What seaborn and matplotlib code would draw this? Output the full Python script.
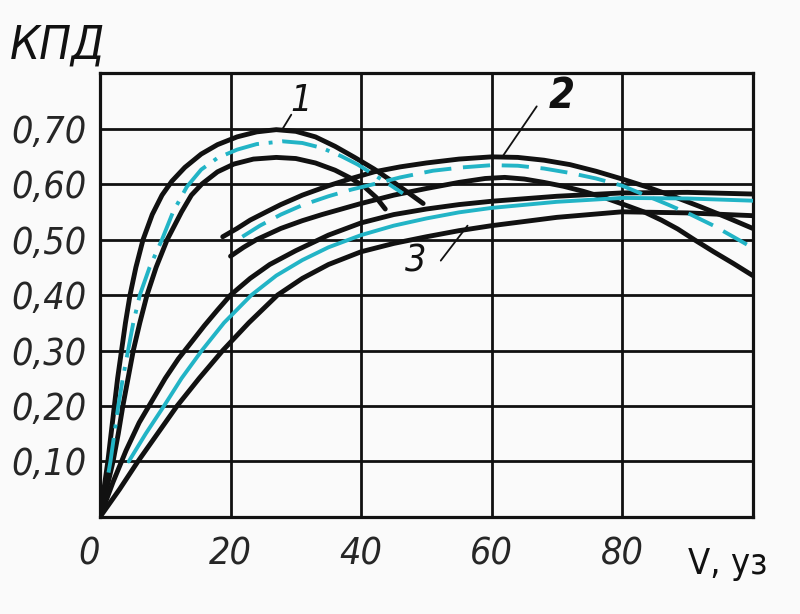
import matplotlib
matplotlib.use("Agg")
import matplotlib.pyplot as plt
from matplotlib.font_manager import FontProperties
import seaborn as sns

# скорость, уз / КПД — кривые снимаются с графика по точкам
# группа 1
v1_top = [0, 0.6, 1.2, 1.7, 2.2, 2.7, 3.3, 3.9, 4.6, 5.5, 6.6, 8, 9.5, 11, 13, 15.5, 18, 21, 24, 27,
          30, 33, 36, 39, 42, 45, 47.5, 49.5]
k1_top = [0, 0.05, 0.10, 0.15, 0.20, 0.25, 0.30, 0.35, 0.40, 0.45, 0.50, 0.545, 0.58, 0.605, 0.63,
          0.654, 0.671, 0.685, 0.694, 0.698, 0.695, 0.685, 0.668, 0.648, 0.627, 0.603, 0.582, 0.565]
v1_mid = [1.3, 1.6, 2.2, 2.8, 3.5, 4.3, 5.1, 6.1, 7.6, 9.5, 11.2, 13.3, 15.5, 18, 21, 24, 28, 31, 34,
          37, 39.5, 42.2, 44.5, 46.4]
k1_mid = [0.08, 0.10, 0.15, 0.20, 0.25, 0.30, 0.35, 0.40, 0.45, 0.50, 0.55, 0.595, 0.626, 0.647,
          0.662, 0.672, 0.677, 0.674, 0.665, 0.65, 0.635, 0.615, 0.598, 0.583]
v1_low = [0, 1.0, 2.0, 2.8, 3.5, 4.3, 5.1, 6.1, 7.2, 8.6, 10.3, 12.5, 14, 15.6, 18, 20.5, 23.5, 27,
          30, 33, 36, 38.5, 40.5, 42.3, 43.7]
k1_low = [0, 0.05, 0.10, 0.15, 0.20, 0.25, 0.30, 0.35, 0.40, 0.45, 0.50, 0.55, 0.58, 0.60, 0.622,
          0.636, 0.645, 0.648, 0.646, 0.638, 0.625, 0.61, 0.595, 0.576, 0.555]

# группа 2
v2_top = [18.8, 21, 23, 25.5, 27.7, 31, 35, 38.5, 42, 46, 50, 55, 60, 64, 68, 72, 76, 80, 84, 88,
          92, 96, 100]
k2_top = [0.505, 0.52, 0.535, 0.55, 0.563, 0.58, 0.597, 0.61, 0.622, 0.631, 0.638, 0.645, 0.649,
          0.648, 0.643, 0.635, 0.623, 0.609, 0.594, 0.577, 0.559, 0.54, 0.52]
v2_mid = [21.8, 24.5, 27.7, 31, 35, 38.5, 42, 46, 51, 55.5, 60, 64, 68, 72, 76, 80, 83.5, 87, 90.5,
          94, 97, 100]
k2_mid = [0.505, 0.525, 0.545, 0.562, 0.578, 0.59, 0.60, 0.612, 0.624, 0.63, 0.634, 0.633, 0.628,
          0.62, 0.61, 0.597, 0.58, 0.563, 0.545, 0.525, 0.505, 0.485]
v2_low = [20, 22, 24, 27.7, 31, 34, 40, 45, 50, 55, 59, 62, 65, 68, 71, 74, 77.4, 80.5, 83.5, 86,
          88.5, 91, 94, 97, 100]
k2_low = [0.47, 0.486, 0.50, 0.52, 0.534, 0.545, 0.565, 0.58, 0.592, 0.603, 0.61, 0.612, 0.609,
          0.603, 0.596, 0.587, 0.575, 0.562, 0.549, 0.535, 0.519, 0.50, 0.478, 0.457, 0.435]

# группа 3
v3_top = [0, 2, 4, 6, 8, 10, 12, 14, 16, 18, 20, 23, 26, 30, 35, 40, 45, 50, 55, 60, 70, 80, 90, 100]
k3_top = [0, 0.063, 0.12, 0.17, 0.21, 0.25, 0.285, 0.315, 0.345, 0.373, 0.40, 0.43, 0.455, 0.48,
          0.508, 0.53, 0.545, 0.555, 0.563, 0.569, 0.578, 0.584, 0.585, 0.582]
v3_mid = [4.4, 7, 9.8, 12.5, 15.6, 19, 23.2, 27, 31, 35, 40, 45, 50, 55, 60, 70, 80, 90, 100]
k3_mid = [0.10, 0.15, 0.20, 0.25, 0.30, 0.35, 0.40, 0.435, 0.463, 0.486, 0.508, 0.525, 0.538,
          0.549, 0.557, 0.568, 0.575, 0.574, 0.57]
v3_low = [0, 3, 5.8, 8.8, 11.8, 15.2, 18.8, 22.8, 27.2, 31, 35, 40, 45, 50, 55, 60, 70, 80, 90, 100]
k3_low = [0, 0.05, 0.10, 0.15, 0.20, 0.25, 0.30, 0.35, 0.40, 0.43, 0.455, 0.478, 0.493, 0.505,
          0.516, 0.525, 0.54, 0.55, 0.548, 0.543]

x_ticks = [0, 20, 40, 60, 80]
x_labels = ["0", "20", "40", "60", "80"]
y_ticks = [0.1, 0.2, 0.3, 0.4, 0.5, 0.6, 0.7]
y_labels = ["0,10", "0,20", "0,30", "0,40", "0,50", "0,60", "0,70"]

CYAN = "#22b4c6"
INK = "#111111"
BG = "#fafafa"

sns.set_style("white")
plt.rcParams["font.family"] = ["DejaVu Sans"]

fig = plt.figure(figsize=(8, 6.14), dpi=100, facecolor=BG)
ax = fig.add_axes([0.125, 0.158, 0.816, 0.723])
ax.set_facecolor(BG)

# черные границы полос
black_lines = [(v1_top, k1_top), (v1_low, k1_low), (v2_top, k2_top), (v2_low, k2_low),
               (v3_top, k3_top), (v3_low, k3_low)]
for vx, ky in black_lines:
    sns.lineplot(x=vx, y=ky, ax=ax, color=INK, lw=3.5, sort=False, estimator=None, zorder=4)

# голубые средние линии
sns.lineplot(x=v1_mid, y=k1_mid, ax=ax, color=CYAN, lw=2.8, sort=False, estimator=None, zorder=5)
ax.lines[-1].set_dashes([9, 2.5, 1, 2.5])
sns.lineplot(x=v2_mid, y=k2_mid, ax=ax, color=CYAN, lw=2.8, sort=False, estimator=None, zorder=5)
ax.lines[-1].set_dashes([7, 3])
sns.lineplot(x=v3_mid, y=k3_mid, ax=ax, color=CYAN, lw=2.8, sort=False, estimator=None, zorder=5)

ax.set_xlim(0, 100)
ax.set_ylim(0, 0.8)
ax.set_xticks(x_ticks)
ax.set_xticklabels(x_labels)
ax.set_yticks(y_ticks)
ax.set_yticklabels(y_labels)

ax.grid(True, color=INK, lw=2.0)
ax.set_axisbelow(True)
for s in ax.spines.values():
    s.set_visible(True)
    s.set_color(INK)
    s.set_linewidth(2.3)

tick_fp = FontProperties(family="DejaVu Sans", style="oblique", stretch="condensed", size=27)
for lab in ax.get_xticklabels() + ax.get_yticklabels():
    lab.set_fontproperties(tick_fp)
ax.get_xticklabels()[0].set_horizontalalignment("right")  # "0" стоит левее начала оси
ax.tick_params(axis="y", length=6, width=1.8, color=INK, pad=4)
ax.tick_params(axis="x", length=0, pad=14)
ax.set_xlabel("")
ax.set_ylabel("")

# подписи осей
fig.text(0.012, 0.888, "КПД", fontsize=34, fontstyle="oblique", fontstretch="condensed",
         color=INK, ha="left", va="bottom")
fig.text(0.86, 0.082, "V, уз", fontsize=26, fontstretch="condensed", color=INK,
         ha="left", va="center")

# номера кривых с выносками
ax.plot([28, 29.3], [0.70, 0.725], color=INK, lw=1.3)
ax.text(30.8, 0.75, "1", fontsize=27, fontstyle="oblique", fontstretch="condensed",
        ha="center", va="center", color=INK)
ax.plot([61.8, 66.9], [0.652, 0.74], color=INK, lw=1.3)
ax.text(70.7, 0.758, "2", fontsize=30, fontweight="bold", fontstyle="oblique",
        fontstretch="condensed", ha="center", va="center", color=INK)
ax.plot([52.2, 56.3], [0.462, 0.525], color=INK, lw=1.3)
ax.text(48.4, 0.46, "3", fontsize=27, fontstyle="oblique", fontstretch="condensed",
        ha="center", va="center", color=INK)

fig.savefig("out.png", dpi=100, facecolor=BG)
